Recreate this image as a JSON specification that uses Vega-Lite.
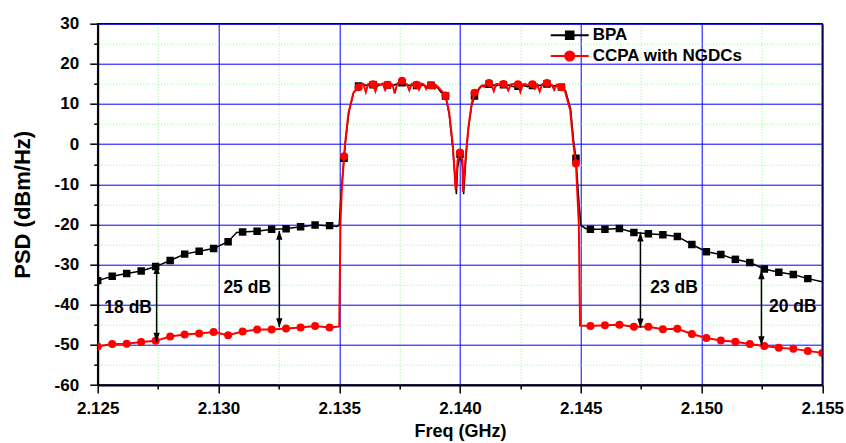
{
  "$schema": "https://vega.github.io/schema/vega-lite/v6.json",
  "width": 724.6,
  "height": 361.3,
  "autosize": {"type": "none"},
  "padding": {"left": 97.7, "top": 23.7, "right": 23.7, "bottom": 58},
  "background": "white",
  "config": {"view": {"stroke": "black", "strokeWidth": 1.5}, "font": "Liberation Sans"},
  "datasets": {
    "bpaLine": [
      {"s":"BPA","f":2.125,"p":-34.0},{"s":"BPA","f":2.1256,"p":-32.9},{"s":"BPA","f":2.1262,"p":-32.2},{"s":"BPA","f":2.1268,"p":-31.6},{"s":"BPA","f":2.1274,"p":-30.5},{"s":"BPA","f":2.128,"p":-29.0},{"s":"BPA","f":2.1286,"p":-27.4},{"s":"BPA","f":2.1292,"p":-26.7},{"s":"BPA","f":2.1298,"p":-26.0},{"s":"BPA","f":2.1304,"p":-24.3},{"s":"BPA","f":2.13075,"p":-22.0},{"s":"BPA","f":2.131,"p":-21.9},{"s":"BPA","f":2.1316,"p":-21.7},{"s":"BPA","f":2.1322,"p":-21.2},{"s":"BPA","f":2.1328,"p":-21.1},{"s":"BPA","f":2.1334,"p":-20.6},{"s":"BPA","f":2.134,"p":-20.15},{"s":"BPA","f":2.1346,"p":-20.3},{"s":"BPA","f":2.1349,"p":-20.5},{"s":"BPA","f":2.135,"p":-20.2},{"s":"BPA","f":2.13503,"p":-17},{"s":"BPA","f":2.13508,"p":-12},{"s":"BPA","f":2.1352,"p":-3.5},{"s":"BPA","f":2.13525,"p":0},{"s":"BPA","f":2.1354,"p":8},{"s":"BPA","f":2.1356,"p":12.9},
      {"s":"BPA","f":2.1358,"p":14.5},{"s":"BPA","f":2.1359,"p":14.7},{"s":"BPA","f":2.136,"p":14.9},{"s":"BPA","f":2.1361,"p":14.6},{"s":"BPA","f":2.1362,"p":14.8},{"s":"BPA","f":2.1363,"p":14.3},{"s":"BPA","f":2.1364,"p":14.8},{"s":"BPA","f":2.1365,"p":14.9},{"s":"BPA","f":2.1366,"p":14.5},{"s":"BPA","f":2.1367,"p":14.8},{"s":"BPA","f":2.1368,"p":14.9},{"s":"BPA","f":2.1369,"p":14.6},{"s":"BPA","f":2.137,"p":14.7},{"s":"BPA","f":2.1371,"p":14.9},{"s":"BPA","f":2.1372,"p":14.5},{"s":"BPA","f":2.1373,"p":14.8},{"s":"BPA","f":2.1374,"p":15.0},{"s":"BPA","f":2.1375,"p":15.1},{"s":"BPA","f":2.1376,"p":15.3},{"s":"BPA","f":2.1377,"p":15.0},{"s":"BPA","f":2.1378,"p":14.8},{"s":"BPA","f":2.1379,"p":14.6},{"s":"BPA","f":2.138,"p":14.8},{"s":"BPA","f":2.1381,"p":14.7},{"s":"BPA","f":2.1382,"p":14.6},{"s":"BPA","f":2.1383,"p":14.8},{"s":"BPA","f":2.1384,"p":14.6},{"s":"BPA","f":2.1385,"p":14.7},{"s":"BPA","f":2.1386,"p":14.4},{"s":"BPA","f":2.1387,"p":14.5},{"s":"BPA","f":2.1388,"p":14.7},{"s":"BPA","f":2.1389,"p":14.6},{"s":"BPA","f":2.139,"p":14.2},{"s":"BPA","f":2.1391,"p":13.9},{"s":"BPA","f":2.1392,"p":13.0},{"s":"BPA","f":2.1393,"p":12.6},{"s":"BPA","f":2.1394,"p":12.0},{"s":"BPA","f":2.13955,"p":7.5},{"s":"BPA","f":2.1397,"p":-1},{"s":"BPA","f":2.13985,"p":-12.5},{"s":"BPA","f":2.1399,"p":-6},{"s":"BPA","f":2.14,"p":-2.5},{"s":"BPA","f":2.1401,"p":-5},{"s":"BPA","f":2.14015,"p":-12.5},{"s":"BPA","f":2.14025,"p":-3},{"s":"BPA","f":2.14035,"p":4},{"s":"BPA","f":2.14048,"p":9.5},{"s":"BPA","f":2.1406,"p":12.0},{"s":"BPA","f":2.1407,"p":12.5},{"s":"BPA","f":2.1408,"p":13.8},{"s":"BPA","f":2.1409,"p":14.5},{"s":"BPA","f":2.141,"p":14.7},{"s":"BPA","f":2.1411,"p":14.8},{"s":"BPA","f":2.1412,"p":14.9},{"s":"BPA","f":2.1413,"p":14.6},{"s":"BPA","f":2.1414,"p":14.7},{"s":"BPA","f":2.1415,"p":14.5},{"s":"BPA","f":2.1416,"p":14.8},{"s":"BPA","f":2.1417,"p":14.6},{"s":"BPA","f":2.1418,"p":14.8},{"s":"BPA","f":2.1419,"p":14.5},{"s":"BPA","f":2.142,"p":14.7},{"s":"BPA","f":2.1421,"p":14.6},{"s":"BPA","f":2.1422,"p":14.3},{"s":"BPA","f":2.1423,"p":14.5},{"s":"BPA","f":2.1424,"p":14.4},{"s":"BPA","f":2.1425,"p":14.3},{"s":"BPA","f":2.1426,"p":14.6},{"s":"BPA","f":2.1427,"p":14.5},{"s":"BPA","f":2.1428,"p":14.3},{"s":"BPA","f":2.1429,"p":14.6},{"s":"BPA","f":2.143,"p":14.6},{"s":"BPA","f":2.1431,"p":14.5},{"s":"BPA","f":2.1432,"p":14.7},{"s":"BPA","f":2.1433,"p":14.6},{"s":"BPA","f":2.1434,"p":14.8},{"s":"BPA","f":2.1435,"p":14.9},{"s":"BPA","f":2.1436,"p":15.0},{"s":"BPA","f":2.1437,"p":14.7},{"s":"BPA","f":2.1438,"p":14.6},{"s":"BPA","f":2.1439,"p":14.5},{"s":"BPA","f":2.144,"p":14.6},{"s":"BPA","f":2.1441,"p":14.4},{"s":"BPA","f":2.1442,"p":14.2},{"s":"BPA","f":2.14437,"p":13.3},{"s":"BPA","f":2.14458,"p":8.8},{"s":"BPA","f":2.1447,"p":1},{"s":"BPA","f":2.1448,"p":-3.5},{"s":"BPA","f":2.14493,"p":-15},{"s":"BPA","f":2.145,"p":-20.2},{"s":"BPA","f":2.1452,"p":-21.0},
      {"s":"BPA","f":2.1454,"p":-21.2},{"s":"BPA","f":2.146,"p":-21.2},{"s":"BPA","f":2.1466,"p":-21.0},{"s":"BPA","f":2.1472,"p":-22.0},{"s":"BPA","f":2.1478,"p":-22.3},{"s":"BPA","f":2.1484,"p":-22.6},{"s":"BPA","f":2.149,"p":-23.0},{"s":"BPA","f":2.1496,"p":-25.0},{"s":"BPA","f":2.1502,"p":-26.8},{"s":"BPA","f":2.1508,"p":-27.5},{"s":"BPA","f":2.1514,"p":-28.7},{"s":"BPA","f":2.152,"p":-29.5},{"s":"BPA","f":2.1526,"p":-31.1},{"s":"BPA","f":2.1532,"p":-31.9},{"s":"BPA","f":2.1538,"p":-32.5},{"s":"BPA","f":2.1544,"p":-33.5},{"s":"BPA","f":2.155,"p":-34.3}
    ],
    "ccpaLine": [
      {"s":"CCPA with NGDCs","f":2.125,"p":-50.4},{"s":"CCPA with NGDCs","f":2.1256,"p":-49.8},{"s":"CCPA with NGDCs","f":2.1262,"p":-49.75},{"s":"CCPA with NGDCs","f":2.1268,"p":-49.3},{"s":"CCPA with NGDCs","f":2.1274,"p":-49.0},{"s":"CCPA with NGDCs","f":2.128,"p":-47.9},{"s":"CCPA with NGDCs","f":2.1286,"p":-47.4},{"s":"CCPA with NGDCs","f":2.1292,"p":-47.2},{"s":"CCPA with NGDCs","f":2.1298,"p":-46.8},{"s":"CCPA with NGDCs","f":2.1304,"p":-47.6},{"s":"CCPA with NGDCs","f":2.131,"p":-46.7},{"s":"CCPA with NGDCs","f":2.1316,"p":-46.2},{"s":"CCPA with NGDCs","f":2.1322,"p":-46.2},{"s":"CCPA with NGDCs","f":2.1328,"p":-45.95},{"s":"CCPA with NGDCs","f":2.1334,"p":-45.7},{"s":"CCPA with NGDCs","f":2.134,"p":-45.3},{"s":"CCPA with NGDCs","f":2.1346,"p":-45.7},{"s":"CCPA with NGDCs","f":2.1349,"p":-45.5},{"s":"CCPA with NGDCs","f":2.135,"p":-45.4},{"s":"CCPA with NGDCs","f":2.13505,"p":-20},{"s":"CCPA with NGDCs","f":2.1351,"p":-12},{"s":"CCPA with NGDCs","f":2.1352,"p":-3.0},{"s":"CCPA with NGDCs","f":2.13524,"p":0},{"s":"CCPA with NGDCs","f":2.13538,"p":7.7},{"s":"CCPA with NGDCs","f":2.13558,"p":12.7},
      {"s":"CCPA with NGDCs","f":2.1358,"p":14.2},{"s":"CCPA with NGDCs","f":2.1359,"p":14.9},{"s":"CCPA with NGDCs","f":2.136,"p":15.0},{"s":"CCPA with NGDCs","f":2.1361,"p":13.0},{"s":"CCPA with NGDCs","f":2.1362,"p":15.0},{"s":"CCPA with NGDCs","f":2.1363,"p":14.9},{"s":"CCPA with NGDCs","f":2.1364,"p":14.9},{"s":"CCPA with NGDCs","f":2.1365,"p":13.2},{"s":"CCPA with NGDCs","f":2.1366,"p":15.0},{"s":"CCPA with NGDCs","f":2.1367,"p":14.8},{"s":"CCPA with NGDCs","f":2.1368,"p":15.1},{"s":"CCPA with NGDCs","f":2.1369,"p":13.5},{"s":"CCPA with NGDCs","f":2.137,"p":14.8},{"s":"CCPA with NGDCs","f":2.1371,"p":15.0},{"s":"CCPA with NGDCs","f":2.1372,"p":14.9},{"s":"CCPA with NGDCs","f":2.1373,"p":12.6},{"s":"CCPA with NGDCs","f":2.1374,"p":15.1},{"s":"CCPA with NGDCs","f":2.1375,"p":15.4},{"s":"CCPA with NGDCs","f":2.1376,"p":15.8},{"s":"CCPA with NGDCs","f":2.1377,"p":15.2},{"s":"CCPA with NGDCs","f":2.1378,"p":14.9},{"s":"CCPA with NGDCs","f":2.1379,"p":13.4},{"s":"CCPA with NGDCs","f":2.138,"p":15.0},{"s":"CCPA with NGDCs","f":2.1381,"p":14.8},{"s":"CCPA with NGDCs","f":2.1382,"p":14.8},{"s":"CCPA with NGDCs","f":2.1383,"p":13.6},{"s":"CCPA with NGDCs","f":2.1384,"p":15.1},{"s":"CCPA with NGDCs","f":2.1385,"p":14.9},{"s":"CCPA with NGDCs","f":2.1386,"p":13.8},{"s":"CCPA with NGDCs","f":2.1387,"p":15.0},{"s":"CCPA with NGDCs","f":2.1388,"p":14.6},{"s":"CCPA with NGDCs","f":2.1389,"p":15.0},{"s":"CCPA with NGDCs","f":2.13895,"p":13.6},{"s":"CCPA with NGDCs","f":2.139,"p":14.7},{"s":"CCPA with NGDCs","f":2.1391,"p":14.2},{"s":"CCPA with NGDCs","f":2.1392,"p":13.5},{"s":"CCPA with NGDCs","f":2.1393,"p":12.9},{"s":"CCPA with NGDCs","f":2.1394,"p":12.1},{"s":"CCPA with NGDCs","f":2.13955,"p":8.0},{"s":"CCPA with NGDCs","f":2.1397,"p":0},{"s":"CCPA with NGDCs","f":2.13982,"p":-11.4},{"s":"CCPA with NGDCs","f":2.1399,"p":-4},{"s":"CCPA with NGDCs","f":2.14,"p":-2.1},{"s":"CCPA with NGDCs","f":2.1401,"p":-4},{"s":"CCPA with NGDCs","f":2.14012,"p":-11.9},{"s":"CCPA with NGDCs","f":2.14025,"p":-2},{"s":"CCPA with NGDCs","f":2.14035,"p":4.3},{"s":"CCPA with NGDCs","f":2.14048,"p":10},{"s":"CCPA with NGDCs","f":2.1406,"p":12.8},{"s":"CCPA with NGDCs","f":2.1407,"p":12.9},{"s":"CCPA with NGDCs","f":2.1408,"p":14.0},{"s":"CCPA with NGDCs","f":2.1409,"p":14.6},{"s":"CCPA with NGDCs","f":2.141,"p":14.3},{"s":"CCPA with NGDCs","f":2.1411,"p":15.0},{"s":"CCPA with NGDCs","f":2.1412,"p":15.2},{"s":"CCPA with NGDCs","f":2.1413,"p":14.9},{"s":"CCPA with NGDCs","f":2.1414,"p":13.2},{"s":"CCPA with NGDCs","f":2.1415,"p":15.0},{"s":"CCPA with NGDCs","f":2.1416,"p":14.9},{"s":"CCPA with NGDCs","f":2.1417,"p":14.8},{"s":"CCPA with NGDCs","f":2.1418,"p":15.0},{"s":"CCPA with NGDCs","f":2.1419,"p":14.8},{"s":"CCPA with NGDCs","f":2.142,"p":13.4},{"s":"CCPA with NGDCs","f":2.1421,"p":14.9},{"s":"CCPA with NGDCs","f":2.1422,"p":15.0},{"s":"CCPA with NGDCs","f":2.1423,"p":14.8},{"s":"CCPA with NGDCs","f":2.1424,"p":14.9},{"s":"CCPA with NGDCs","f":2.1425,"p":13.0},{"s":"CCPA with NGDCs","f":2.1426,"p":14.9},{"s":"CCPA with NGDCs","f":2.1427,"p":15.0},{"s":"CCPA with NGDCs","f":2.1428,"p":14.7},{"s":"CCPA with NGDCs","f":2.1429,"p":15.0},{"s":"CCPA with NGDCs","f":2.143,"p":14.9},{"s":"CCPA with NGDCs","f":2.1431,"p":13.8},{"s":"CCPA with NGDCs","f":2.1432,"p":14.8},{"s":"CCPA with NGDCs","f":2.1433,"p":13.1},{"s":"CCPA with NGDCs","f":2.1434,"p":14.9},{"s":"CCPA with NGDCs","f":2.1435,"p":15.1},{"s":"CCPA with NGDCs","f":2.1436,"p":15.2},{"s":"CCPA with NGDCs","f":2.1437,"p":14.9},{"s":"CCPA with NGDCs","f":2.1438,"p":14.8},{"s":"CCPA with NGDCs","f":2.1439,"p":13.5},{"s":"CCPA with NGDCs","f":2.144,"p":14.8},{"s":"CCPA with NGDCs","f":2.1441,"p":14.6},{"s":"CCPA with NGDCs","f":2.1442,"p":14.2},{"s":"CCPA with NGDCs","f":2.14435,"p":13.1},{"s":"CCPA with NGDCs","f":2.14456,"p":8.5},{"s":"CCPA with NGDCs","f":2.14469,"p":0.2},{"s":"CCPA with NGDCs","f":2.1448,"p":-4.8},{"s":"CCPA with NGDCs","f":2.14492,"p":-20},{"s":"CCPA with NGDCs","f":2.14497,"p":-45.2},
      {"s":"CCPA with NGDCs","f":2.1454,"p":-45.3},{"s":"CCPA with NGDCs","f":2.146,"p":-45.1},{"s":"CCPA with NGDCs","f":2.1466,"p":-45.0},{"s":"CCPA with NGDCs","f":2.1472,"p":-45.5},{"s":"CCPA with NGDCs","f":2.1478,"p":-45.5},{"s":"CCPA with NGDCs","f":2.1484,"p":-46.1},{"s":"CCPA with NGDCs","f":2.149,"p":-46.0},{"s":"CCPA with NGDCs","f":2.1496,"p":-47.3},{"s":"CCPA with NGDCs","f":2.1502,"p":-48.3},{"s":"CCPA with NGDCs","f":2.1508,"p":-48.9},{"s":"CCPA with NGDCs","f":2.1514,"p":-49.2},{"s":"CCPA with NGDCs","f":2.152,"p":-49.8},{"s":"CCPA with NGDCs","f":2.1526,"p":-50.3},{"s":"CCPA with NGDCs","f":2.1532,"p":-50.7},{"s":"CCPA with NGDCs","f":2.1538,"p":-51.0},{"s":"CCPA with NGDCs","f":2.1544,"p":-51.5},{"s":"CCPA with NGDCs","f":2.155,"p":-52.0}
    ],
    "bpaMarkers": [
      {"f":2.125,"p":-34.0},{"f":2.1256,"p":-32.9},{"f":2.1262,"p":-32.2},{"f":2.1268,"p":-31.6},{"f":2.1274,"p":-30.5},{"f":2.128,"p":-29.0},{"f":2.1286,"p":-27.4},{"f":2.1292,"p":-26.7},{"f":2.1298,"p":-26.0},{"f":2.1304,"p":-24.3},{"f":2.131,"p":-21.9},{"f":2.1316,"p":-21.7},{"f":2.1322,"p":-21.2},{"f":2.1328,"p":-21.1},{"f":2.1334,"p":-20.6},{"f":2.134,"p":-20.15},{"f":2.1346,"p":-20.3},{"f":2.1352,"p":-3.5},{"f":2.1358,"p":14.5},{"f":2.1364,"p":14.8},{"f":2.137,"p":14.7},{"f":2.1376,"p":15.3},{"f":2.1382,"p":14.6},{"f":2.1388,"p":14.7},{"f":2.1394,"p":12.0},{"f":2.14,"p":-2.5},{"f":2.1406,"p":12.0},{"f":2.1412,"p":14.9},{"f":2.1418,"p":14.8},{"f":2.1424,"p":14.4},{"f":2.143,"p":14.6},{"f":2.1436,"p":15.0},{"f":2.1442,"p":14.2},{"f":2.1448,"p":-3.5},{"f":2.1454,"p":-21.2},{"f":2.146,"p":-21.2},{"f":2.1466,"p":-21.0},{"f":2.1472,"p":-22.0},{"f":2.1478,"p":-22.3},{"f":2.1484,"p":-22.6},{"f":2.149,"p":-23.0},{"f":2.1496,"p":-25.0},{"f":2.1502,"p":-26.8},{"f":2.1508,"p":-27.5},{"f":2.1514,"p":-28.7},{"f":2.152,"p":-29.5},{"f":2.1526,"p":-31.1},{"f":2.1532,"p":-31.9},{"f":2.1538,"p":-32.5},{"f":2.1544,"p":-33.5}
    ],
    "ccpaMarkers": [
      {"f":2.125,"p":-50.4},{"f":2.1256,"p":-49.8},{"f":2.1262,"p":-49.75},{"f":2.1268,"p":-49.3},{"f":2.1274,"p":-49.0},{"f":2.128,"p":-47.9},{"f":2.1286,"p":-47.4},{"f":2.1292,"p":-47.2},{"f":2.1298,"p":-46.8},{"f":2.1304,"p":-47.6},{"f":2.131,"p":-46.7},{"f":2.1316,"p":-46.2},{"f":2.1322,"p":-46.2},{"f":2.1328,"p":-45.95},{"f":2.1334,"p":-45.7},{"f":2.134,"p":-45.3},{"f":2.1346,"p":-45.7},{"f":2.1352,"p":-3.0},{"f":2.1358,"p":14.2},{"f":2.1364,"p":14.9},{"f":2.137,"p":14.8},{"f":2.1376,"p":15.8},{"f":2.1382,"p":14.8},{"f":2.1388,"p":14.6},{"f":2.1394,"p":12.1},{"f":2.14,"p":-2.1},{"f":2.1406,"p":12.8},{"f":2.1412,"p":15.2},{"f":2.1418,"p":15.0},{"f":2.1424,"p":14.9},{"f":2.143,"p":14.9},{"f":2.1436,"p":15.2},{"f":2.1442,"p":14.2},{"f":2.1448,"p":-4.8},{"f":2.1454,"p":-45.3},{"f":2.146,"p":-45.1},{"f":2.1466,"p":-45.0},{"f":2.1472,"p":-45.5},{"f":2.1478,"p":-45.5},{"f":2.1484,"p":-46.1},{"f":2.149,"p":-46.0},{"f":2.1496,"p":-47.3},{"f":2.1502,"p":-48.3},{"f":2.1508,"p":-48.9},{"f":2.1514,"p":-49.2},{"f":2.152,"p":-49.8},{"f":2.1526,"p":-50.3},{"f":2.1532,"p":-50.7},{"f":2.1538,"p":-51.0},{"f":2.1544,"p":-51.5},{"f":2.155,"p":-52.0}
    ],
    "arrows": [
      {"f":2.12744,"p":-30.1,"p2":-49.2},
      {"f":2.13252,"p":-21.6,"p2":-45.6},
      {"f":2.14747,"p":-22.0,"p2":-45.7},
      {"f":2.15248,"p":-31.4,"p2":-50.1}
    ],
    "notes": [
      {"t":"18 dB","f":2.12626,"p":-40.8},
      {"t":"25 dB","f":2.13119,"p":-35.9},
      {"t":"23 dB","f":2.14886,"p":-35.9},
      {"t":"20 dB","f":2.15378,"p":-40.65}
    ]
  },
  "encoding": {
    "x": {"field": "f", "type": "quantitative",
      "scale": {"domain": [2.125, 2.155], "nice": false, "zero": false},
      "axis": {
        "title": "Freq (GHz)",
        "values": [2.125, 2.1275, 2.13, 2.1325, 2.135, 2.1375, 2.14, 2.1425, 2.145, 2.1475, 2.15, 2.1525, 2.155],
        "labelExpr": "abs(datum.value*200 - round(datum.value*200)) < 0.01 ? format(datum.value, '.3f') : ''",
        "labelFlush": false, "labelOverlap": false,
        "labelFont": "Liberation Sans", "labelFontSize": 17, "labelFontWeight": "bold", "labelColor": "black", "labelPadding": 7,
        "ticks": true,
        "tickSize": {"condition": {"test": "abs(datum.value*200 - round(datum.value*200)) < 0.01", "value": 8}, "value": 4},
        "tickColor": "black", "tickWidth": 1.5,
        "domainColor": "black", "domainWidth": 2,
        "grid": true,
        "gridColor": {"condition": {"test": "abs(datum.value*200 - round(datum.value*200)) < 0.01", "value": "#0000ff"}, "value": "#80ff80"},
        "gridDash": {"condition": {"test": "abs(datum.value*200 - round(datum.value*200)) < 0.01", "value": []}, "value": [1, 2]},
        "gridWidth": 1, "gridOpacity": 1,
        "titleFont": "Liberation Sans", "titleFontSize": 18, "titleFontWeight": "bold", "titleColor": "black", "titlePadding": 6
      }
    },
    "y": {"field": "p", "type": "quantitative",
      "scale": {"domain": [-60, 30], "nice": false, "zero": false},
      "axis": {
        "title": "PSD (dBm/Hz)",
        "values": [-60, -55, -50, -45, -40, -35, -30, -25, -20, -15, -10, -5, 0, 5, 10, 15, 20, 25, 30],
        "labelExpr": "datum.value % 10 === 0 ? '' + datum.value : ''",
        "labelFlush": false, "labelOverlap": false,
        "labelFont": "Liberation Sans", "labelFontSize": 17, "labelFontWeight": "bold", "labelColor": "black", "labelPadding": 11,
        "tickSize": {"condition": {"test": "datum.value % 10 === 0", "value": 8}, "value": 4},
        "tickColor": "black", "tickWidth": 1.5,
        "domainColor": "black", "domainWidth": 2,
        "grid": true,
        "gridColor": {"condition": {"test": "datum.value % 10 === 0", "value": "#0000ff"}, "value": "#80ff80"},
        "gridDash": {"condition": {"test": "datum.value % 10 === 0", "value": []}, "value": [1, 2]},
        "gridWidth": 1, "gridOpacity": 1,
        "titleFont": "Liberation Sans", "titleFontSize": 22, "titleFontWeight": "bold", "titleColor": "black", "titlePadding": 20
      }
    }
  },
  "layer": [
    {
      "data": {"name": "bpaLine"},
      "mark": {"type": "line", "strokeWidth": 1.5, "clip": true},
      "encoding": {
        "color": {"field": "s", "type": "nominal",
          "scale": {"domain": ["BPA", "CCPA with NGDCs"], "range": ["#000000", "#ff0000"]},
          "legend": {
            "title": null, "orient": "none", "legendX": 461, "legendY": 0.6, "padding": 0,
            "symbolSize": 400, "symbolStrokeWidth": 2,
            "labelFont": "Liberation Sans", "labelFontSize": 17, "labelFontWeight": "bold", "labelColor": "black",
            "labelOffset": 12, "labelLimit": 300, "rowPadding": 1.7,
            "encode": {"symbols": {"update": {
              "shape": {"signal": "datum.value === 'BPA' ? 'M-1.9,0H1.9M-0.38,-0.38H0.38V0.38H-0.38Z' : 'M-1.9,0H1.9M0.45,0A0.45,0.45,0,1,1,-0.45,0A0.45,0.45,0,1,1,0.45,0Z'"},
              "fill": {"signal": "datum.value === 'BPA' ? '#000000' : '#ff0000'"},
              "stroke": {"signal": "datum.value === 'BPA' ? '#000000' : '#ff0000'"},
              "strokeWidth": {"value": 2},
              "opacity": {"value": 1}
            }}}
          }
        }
      }
    },
    {
      "data": {"name": "bpaMarkers"},
      "mark": {"type": "point", "shape": "square", "filled": true, "color": "#000000", "size": 56, "opacity": 1, "clip": true}
    },
    {
      "data": {"name": "ccpaLine"},
      "mark": {"type": "line", "strokeWidth": 2, "clip": true},
      "encoding": {
        "color": {"field": "s", "type": "nominal",
          "scale": {"domain": ["BPA", "CCPA with NGDCs"], "range": ["#000000", "#ff0000"]}}
      }
    },
    {
      "data": {"name": "ccpaMarkers"},
      "mark": {"type": "point", "shape": "circle", "filled": true, "color": "#ff0000", "size": 64, "opacity": 1, "clip": true}
    },
    {
      "data": {"name": "arrows"},
      "mark": {"type": "rule", "color": "#000000", "strokeWidth": 1.5},
      "encoding": {
        "y2": {"field": "p2"}
      }
    },
    {
      "data": {"name": "arrows"},
      "mark": {"type": "point", "shape": "M0,0L-0.35,1L0.35,1Z", "filled": true, "color": "#000000", "size": 324, "opacity": 1}
    },
    {
      "data": {"name": "arrows"},
      "mark": {"type": "point", "shape": "M0,0L-0.35,-1L0.35,-1Z", "filled": true, "color": "#000000", "size": 324, "opacity": 1},
      "encoding": {
        "y": {"field": "p2", "type": "quantitative"}
      }
    },
    {
      "data": {"name": "notes"},
      "mark": {"type": "text", "font": "Liberation Sans", "fontSize": 17.5, "fontWeight": "bold", "color": "#000000", "align": "center", "baseline": "middle"},
      "encoding": {
        "text": {"field": "t"}
      }
    }
  ]
}
